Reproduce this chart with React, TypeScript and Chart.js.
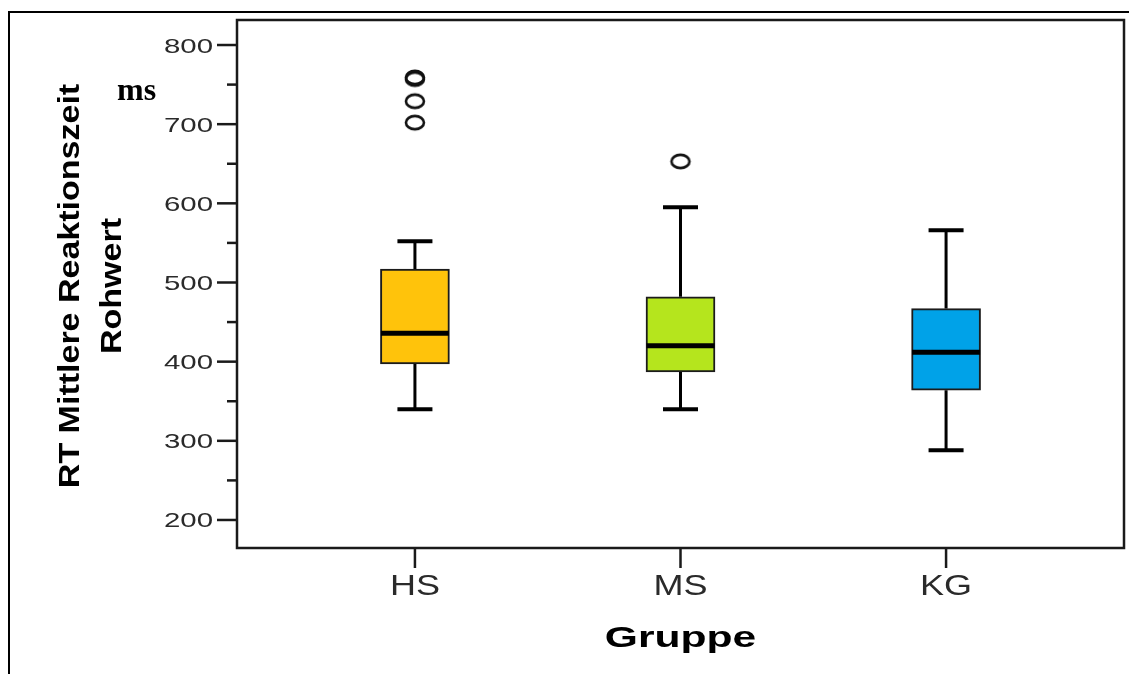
import React, { useEffect, useRef } from "react";
import { Chart, registerables } from "chart.js";

Chart.register(...registerables);

const groups = ["HS", "MS", "KG"];
const lowerWhisker = [340, 340, 288];
const q1 = [397, 387, 364];
const median = [436, 420, 412];
const q3 = [517, 482, 467];
const upperWhisker = [552, 595, 566];
const outliersHS = [702, 729, 757, 759];
const outliersMS = [653];
const boxColors = ["#FFC30B", "#B5E51D", "#00A2E8"];
const yTickValues = [200, 250, 300, 350, 400, 450, 500, 550, 600, 650, 700, 750, 800];
const yTitleLines = ["RT Mittlere Reaktionszeit", "Rohwert"];
const xTitle = "Gruppe";
const unitLabel = "ms";

function makeRing(): HTMLCanvasElement {
  const c = document.createElement("canvas");
  c.width = 24;
  c.height = 19;
  const g = c.getContext("2d")!;
  g.strokeStyle = "#111";
  g.lineWidth = 2.6;
  g.beginPath();
  g.ellipse(12, 9.5, 9, 6.6, 0, 0, Math.PI * 2);
  g.stroke();
  return c;
}

const decor = {
  id: "decor",
  beforeDraw(chart: any) {
    const { ctx } = chart;
    ctx.save();
    ctx.fillStyle = "#fff";
    ctx.fillRect(0, 0, chart.width, chart.height);
    ctx.strokeStyle = "#000";
    ctx.lineWidth = 2;
    ctx.beginPath();
    ctx.moveTo(9, chart.height);
    ctx.lineTo(9, 12);
    ctx.lineTo(chart.width, 12);
    ctx.stroke();
    ctx.restore();
  },
  afterDraw(chart: any) {
    const { ctx, chartArea } = chart;
    const ys = chart.scales.y;
    const xs = chart.scales.x;
    ctx.save();
    ctx.strokeStyle = "#1a1a1a";
    ctx.lineWidth = 2.5;
    ctx.strokeRect(chartArea.left, chartArea.top, chartArea.right - chartArea.left, chartArea.bottom - chartArea.top);
    ctx.fillStyle = "#2a2a2a";
    ctx.font = '21px "Liberation Sans", Arial, sans-serif';
    yTickValues.forEach((v) => {
      const y = ys.getPixelForValue(v);
      const major = v % 100 === 0;
      ctx.beginPath();
      ctx.moveTo(chartArea.left - (major ? 20 : 10), y);
      ctx.lineTo(chartArea.left, y);
      ctx.stroke();
      if (major) {
        ctx.save();
        ctx.translate(213, y + 7.5);
        ctx.scale(1.4, 1);
        ctx.textAlign = "right";
        ctx.textBaseline = "alphabetic";
        ctx.fillText(String(v), 0, 0);
        ctx.restore();
      }
    });
    ctx.font = '30px "Liberation Sans", Arial, sans-serif';
    groups.forEach((g, i) => {
      const x = xs.getPixelForValue(i);
      ctx.beginPath();
      ctx.moveTo(x, chartArea.bottom);
      ctx.lineTo(x, chartArea.bottom + 20);
      ctx.stroke();
      ctx.save();
      ctx.translate(x, 595);
      ctx.scale(1.2, 1);
      ctx.textAlign = "center";
      ctx.textBaseline = "alphabetic";
      ctx.fillText(g, 0, 0);
      ctx.restore();
    });
    ctx.fillStyle = "#000";
    ctx.font = 'bold 30px "Liberation Sans", Arial, sans-serif';
    ctx.save();
    ctx.translate(xs.getPixelForValue(1), 647);
    ctx.scale(1.42, 1);
    ctx.textAlign = "center";
    ctx.fillText(xTitle, 0, 0);
    ctx.restore();
    ctx.font = 'bold 34px "Liberation Sans", Arial, sans-serif';
    const baselines = [79, 121];
    yTitleLines.forEach((t, i) => {
      ctx.save();
      ctx.translate(baselines[i], 286);
      ctx.rotate(-Math.PI / 2);
      ctx.scale(1, 0.88);
      ctx.textAlign = "center";
      ctx.textBaseline = "alphabetic";
      ctx.fillText(t, 0, 0);
      ctx.restore();
    });
    ctx.font = 'bold 32px "Liberation Serif", "Times New Roman", serif';
    ctx.textAlign = "left";
    ctx.fillText(unitLabel, 117, 100);
    ctx.restore();
  },
};

export default function App() {
  const ref = useRef<HTMLCanvasElement | null>(null);
  useEffect(() => {
    if (!ref.current) return;
    const ring = makeRing();
    const whiskerData: any[] = [];
    groups.forEach((_, i) => {
      whiskerData.push({ x: i, y: lowerWhisker[i] }, { x: i, y: q1[i] }, { x: i, y: NaN });
      whiskerData.push({ x: i, y: q3[i] }, { x: i, y: upperWhisker[i] }, { x: i, y: NaN });
    });
    const capData: any[] = [];
    groups.forEach((_, i) => {
      capData.push({ x: i, y: lowerWhisker[i] }, { x: i, y: upperWhisker[i] });
    });
    const chart = new Chart(ref.current, {
      type: "bar",
      data: {
        datasets: [
          {
            type: "scatter",
            label: "median",
            order: 0,
            data: groups.map((_, i) => ({ x: i, y: median[i] })),
            pointStyle: "line",
            pointRadius: 34,
            pointHoverRadius: 34,
            borderColor: "#000",
            borderWidth: 5,
          } as any,
          {
            type: "scatter",
            label: "caps",
            order: 1,
            data: capData,
            pointStyle: "line",
            pointRadius: 17.5,
            pointHoverRadius: 17.5,
            borderColor: "#000",
            borderWidth: 4,
          } as any,
          {
            type: "scatter",
            label: "outliers",
            order: 1,
            data: [
              ...outliersHS.map((v) => ({ x: 0, y: v })),
              ...outliersMS.map((v) => ({ x: 1, y: v })),
            ],
            pointStyle: ring,
            pointRadius: 9,
          } as any,
          {
            type: "line",
            label: "whiskers",
            order: 2,
            data: whiskerData,
            borderColor: "#000",
            borderWidth: 3,
            pointRadius: 0,
            spanGaps: false,
            fill: false,
          } as any,
          {
            type: "bar",
            label: "box",
            order: 3,
            data: groups.map((_, i) => ({ x: i, y: [q1[i], q3[i]] })),
            backgroundColor: boxColors,
            borderColor: "#1b1b1b",
            borderWidth: 2,
            borderSkipped: false,
            barThickness: 69,
          } as any,
        ],
      },
      options: {
        responsive: false,
        animation: false,
        events: [],
        layout: { autoPadding: false, padding: { top: 20, right: 5, left: 0, bottom: 0 } },
        plugins: { legend: { display: false }, tooltip: { enabled: false } },
        scales: {
          x: {
            type: "linear",
            offset: false,
            min: -0.67,
            max: 2.67,
            grid: { display: false },
            border: { display: false },
            ticks: { display: false },
            afterFit: (s: any) => {
              s.height = 126;
            },
          },
          y: {
            type: "linear",
            min: 164.6,
            max: 831.6,
            grid: { display: false },
            border: { display: false },
            ticks: { display: false },
            afterFit: (s: any) => {
              s.width = 237;
            },
          },
        },
      } as any,
      plugins: [decor],
    });
    return () => chart.destroy();
  }, []);
  return (
    <div style={{ position: "absolute", left: 0, top: 0, width: 1129, height: 674 }}>
      <canvas ref={ref} width={1129} height={674} />
    </div>
  );
}
